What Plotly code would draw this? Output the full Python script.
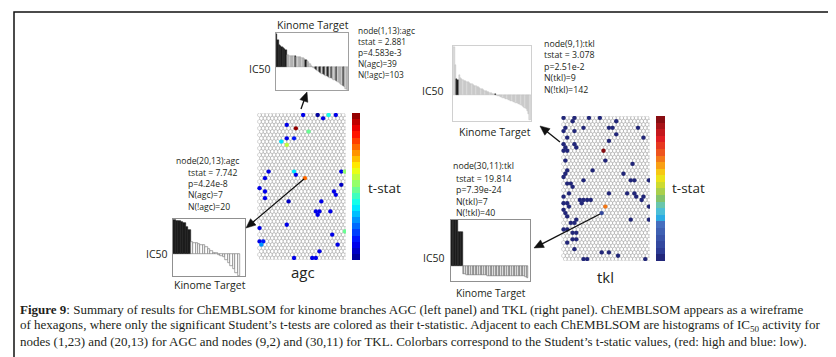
import numpy as np
import plotly.graph_objects as go

W, H = 836, 357


def px(x):
    return x / W


def py(y):
    return 1 - y / H


# ---------------- data ----------------
SOM_ROWS, SOM_COLS = 44, 24

# AGC significant nodes (row, col, t-statistic)
agc_rows = [1, 1, 1, 1, 2, 4, 5, 6, 8, 8, 9, 10, 18, 18, 19, 20, 18, 18, 20, 22, 23, 24,
            24, 25, 26, 27, 27, 30, 30, 31, 30, 34, 35, 37, 36, 39, 39, 40, 40, 42, 44, 44, 44]
agc_cols = [13, 17, 20, 22, 18, 8, 11, 14, 8, 10, 7, 8, 3, 10, 11, 13, 23, 24, 2, 23, 1, 2,
            21, 22, 2, 9, 18, 16, 17, 17, 20, 8, 1, 21, 24, 1, 2, 1, 22, 17, 10, 15, 16]
agc_tstat = [2.881, 2.3, 4.8, 2.9, 2.8, 2.9, 9.3, 5.6, 2.9, 3.0, 4.6, 6.0, 2.8, 4.7, 2.9, 7.742,
             2.9, 5.7, 2.8, 2.4, 2.8, 2.9, 2.8, 2.9, 2.8, 2.4, 2.8, 2.8, 2.8, 2.9, 2.8, 2.9,
             2.8, 2.9, 5.6, 2.9, 3.0, 4.0, 2.9, 2.8, 2.8, 2.8, 2.9]

# TKL significant nodes (row, col, t-statistic)
tkl_rows = [1, 1, 1, 1, 2, 2, 4, 4, 4, 4, 4, 5, 5, 6, 7, 7, 8, 9, 9, 10, 10, 11, 11, 11,
            14, 14, 15, 17, 17, 18, 18, 19, 20, 20, 20, 20, 21, 22, 21, 24, 24, 24, 24, 25,
            25, 25, 26, 26, 26, 26, 26, 27, 27, 27, 28, 28, 28, 29, 30, 30, 31, 32, 32, 32,
            33, 33, 35, 35, 36, 36, 38, 38, 39, 41, 42, 42, 43, 44, 44, 44]
tkl_cols = [1, 4, 8, 11, 3, 15, 1, 6, 13, 14, 21, 4, 1, 15, 2, 23, 13, 1, 4, 1, 4, 2, 12, 1,
            12, 1, 20, 2, 9, 1, 17, 1, 6, 19, 20, 24, 2, 3, 3, 2, 13, 18, 20, 23,
            1, 21, 5, 6, 7, 8, 22, 1, 2, 6, 2, 24, 12, 1, 11, 1, 2, 4, 19, 24,
            3, 4, 1, 2, 3, 4, 3, 4, 2, 4, 11, 13, 16, 6, 7, 23]
tkl_tstat = [3.0, 3.0, 3.0, 3.0, 3.0, 3.0, 3.0, 3.0, 3.0, 3.0, 3.0, 3.0, 3.0, 3.0, 3.0, 3.0,
             3.0, 3.078, 3.0, 3.0, 3.0, 3.0, 27.0, 3.0, 3.0, 3.0, 3.0, 3.0, 3.0, 3.0, 3.0, 3.0,
             3.0, 3.0, 3.0, 3.0, 3.0, 3.0, 3.0, 3.0, 3.0, 3.0, 3.0, 3.0, 3.0, 3.0, 3.0, 3.0,
             3.0, 3.0, 3.0, 3.0, 3.0, 3.0, 3.0, 3.0, 19.814, 3.0, 5.0, 3.0, 3.0, 3.0, 3.0, 3.0,
             3.0, 3.0, 3.0, 3.0, 3.0, 3.0, 3.0, 3.0, 3.0, 3.0, 3.0, 3.0, 3.0, 3.0, 3.0, 3.0]

# IC50 histograms (relative IC50, sorted) and membership (1 = kinase branch, 0 = other)
agc_n1_ic50 = [33, 27, 22, 21, 20, 19, 18, 17,
               12, 12, 11.5, 11.5, 11, 11, 11, 10.5, 10.5, 10, 10, 9.5, 9, 8,
               7, 6, 5, 3, 1, 0.5,
               -1, -2, -3, -4, -5, -6, -6.5, -7, -8, -8.5, -9, -10, -10.5, -11, -12,
               -12.5, -13, -14, -15, -16, -17, -18, -19, -20, -21.5, -23]
agc_n1_grp = [1, 1, 1, 1, 1, 1, 1, 1,
              0, 0, 0, 0, 0, 0, 1, 0, 0, 0, 0, 0, 0, 0,
              1, 0, 0, 0, 0, 0,
              0, 1, 1, 0, 1, 1, 0, 1, 1, 0, 1, 1, 0, 1, 0,
              0, 0, 1, 0, 0, 0, 0, 1, 0, 0, 0]

agc_n2_ic50 = [34, 33, 33, 32, 31, 27, 24,
               12, 11, 11, 10, 9, 9, 7, 5, 3, 1, 1, -1, -2, -3, -6, -9, -12, -15, -19, -22]
agc_n2_grp = [1, 1, 1, 1, 1, 1, 1] + [0] * 20

tkl_n1_ic50 = [48, 30, 16, 15,
               20, 17, 16, 15, 14.5, 14, 13, 13, 12, 11.5, 11, 10, 9.5, 9, 8.5, 8, 7, 6.5,
               6, 5, 4.5, 4, 3.5, 3, 2.5, 2, 1.5, 1, 1.5,
               0.5, -0.5, -1, -1.5, -2, -2.5, -3, -3.5, -4, -4.5, -5, -5.5, -6, -6.5, -7,
               -7.5, -8, -8.5, -9, -10, -11, -12, -13, -14, -16, -19, -25]
tkl_n1_grp = [0, 0, 1, 1] + [0] * 28 + [1] + [0] * 27

tkl_n2_ic50 = [46, 46, 46, 46, 34, 34, 34,
               -8, -8, -8.5, -8.5, -8.5, -8.5, -9, -9, -9, -9, -9, -9, -9, -9, -9,
               -9.5, -9.5, -9.5, -9.5, -9.5, -9.5, -9.5, -9.5, -9.5, -9.5, -9.5,
               -10, -10, -10, -10, -10, -10, -10, -10, -10, -10, -10, -10, -10.5, -12]
tkl_n2_grp = [1] * 7 + [0] * 40

caption_lines = [
    "<b>Figure 9</b>: Summary of results for ChEMBLSOM for kinome branches AGC (left panel) and TKL (right panel). ChEMBLSOM appears as a wireframe",
    "of hexagons, where only the significant Student\u2019s t-tests are colored as their t-statistic. Adjacent to each ChEMBLSOM are histograms of IC<sub>50</sub> activity for",
    "nodes (1,23) and (20,13) for AGC and nodes (9,2) and (30,11) for TKL. Colorbars correspond to the Student\u2019s t-static values, (red: high and blue: low).",
]

# ---------------- styles ----------------
SANS = "Open Sans"
SERIF = "Liberation Serif"


def stepped(anchors, n):
    pos = [a[0] for a in anchors]
    cols = np.array([a[1] for a in anchors], float)
    sc = []
    for i in range(n):
        m = (i + 0.5) / n
        c = [int(np.interp(m, pos, cols[:, k])) for k in range(3)]
        s = f"rgb({c[0]},{c[1]},{c[2]})"
        sc.append([i / n, s])
        sc.append([(i + 1) / n, s])
    return sc


jet_agc = stepped([(0, (0, 0, 140)), (0.125, (0, 0, 255)), (0.375, (0, 255, 255)),
                   (0.625, (255, 255, 0)), (0.875, (255, 0, 0)), (1, (128, 0, 0))], 24)
jet_tkl = stepped([(0, (30, 30, 110)), (0.07, (45, 60, 150)), (0.25, (70, 110, 190)),
                   (0.29, (40, 170, 230)), (0.36, (90, 200, 210)), (0.43, (130, 195, 110)),
                   (0.5, (190, 215, 60)), (0.58, (245, 230, 20)), (0.66, (250, 160, 20)),
                   (0.74, (240, 90, 30)), (0.84, (225, 30, 35)), (0.93, (170, 20, 25)),
                   (1, (120, 10, 15))], 22)

fig = go.Figure()


def hex_x(rows, cols):
    return [c + (0.5 if r % 2 == 0 else 0) for r, c in zip(rows, cols)]


grid_r = [r for r in range(1, SOM_ROWS + 1) for c in range(1, SOM_COLS + 1)]
grid_c = [c for r in range(1, SOM_ROWS + 1) for c in range(1, SOM_COLS + 1)]

for xa, ya in (("x", "y"), ("x2", "y2")):
    fig.add_trace(go.Scatter(
        x=hex_x(grid_r, grid_c), y=grid_r, mode="markers", xaxis=xa, yaxis=ya,
        marker=dict(symbol="hexagon-open", size=4.3, color="#a6a6a6",
                    line=dict(width=0.45, color="#a6a6a6")),
        hoverinfo="skip", showlegend=False))

fig.add_trace(go.Scatter(
    x=hex_x(agc_rows, agc_cols), y=agc_rows, mode="markers", xaxis="x", yaxis="y",
    marker=dict(size=4.3, color=agc_tstat, colorscale=jet_agc, cmin=2, cmax=9.3, showscale=True,
                colorbar=dict(x=px(344), xanchor="left", y=py(178.5), yanchor="middle",
                              len=147, lenmode="pixels", thickness=8, outlinewidth=0,
                              showticklabels=False, ticks="", xpad=0, ypad=0)),
    showlegend=False))

fig.add_trace(go.Scatter(
    x=hex_x(tkl_rows, tkl_cols), y=tkl_rows, mode="markers", xaxis="x2", yaxis="y2",
    marker=dict(size=4.3, color=tkl_tstat, colorscale=jet_tkl, cmin=2, cmax=27, showscale=True,
                colorbar=dict(x=px(648), xanchor="left", y=py(180.5), yanchor="middle",
                              len=145, lenmode="pixels", thickness=9, outlinewidth=0,
                              showticklabels=False, ticks="", xpad=0, ypad=0)),
    showlegend=False))


def bars(vals, grp, xa, ya, other_fill, other_line, lw):
    fig.add_trace(go.Bar(
        x=list(range(len(vals))), y=vals, xaxis=xa, yaxis=ya,
        marker=dict(color=["#1c1c1c" if g else other_fill for g in grp],
                    line=dict(color=["#1c1c1c" if g else other_line for g in grp], width=lw)),
        showlegend=False))


bars(agc_n1_ic50, agc_n1_grp, "x3", "y3", "#d4d4d4", "#8a8a8a", 0.4)
bars(agc_n2_ic50, agc_n2_grp, "x4", "y4", "#ffffff", "#6e6e6e", 0.6)
bars(tkl_n1_ic50, tkl_n1_grp, "x5", "y5", "#dedede", "#b5b5b5", 0.4)
bars(tkl_n2_ic50, tkl_n2_grp, "x6", "y6", "#f0f0f0", "#555555", 0.5)


def grid_axes(x0, x1, y0, y1):
    xa = dict(domain=[px(x0), px(x1)], range=[0.3, SOM_COLS + 0.8], visible=False)
    ya = dict(domain=[py(y1), py(y0)], range=[SOM_ROWS + 0.6, 0.4], visible=False)
    return xa, ya


def bar_axes(x0, x1, y0, y1, xr, yr, lc):
    common = dict(showgrid=False, zeroline=False, showticklabels=False, ticks="",
                  showline=True, mirror=True, linecolor=lc, linewidth=1)
    xa = dict(domain=[px(x0), px(x1)], range=xr, **common)
    ya = dict(domain=[py(y1), py(y0)], range=yr, **common)
    return xa, ya


layout_axes = {}
layout_axes["xaxis"], layout_axes["yaxis"] = grid_axes(249, 338, 105, 252)
layout_axes["xaxis2"], layout_axes["yaxis2"] = grid_axes(553, 642, 108, 253)
layout_axes["xaxis3"], layout_axes["yaxis3"] = bar_axes(268, 340, 25, 82, [-0.5, len(agc_n1_ic50) - 0.5], [-23, 34], "#a0a0a0")
layout_axes["xaxis4"], layout_axes["yaxis4"] = bar_axes(165, 237, 211, 268, [-0.6, 28.5], [-22, 35], "#909090")
layout_axes["xaxis5"], layout_axes["yaxis5"] = bar_axes(445, 523, 38, 113, [-0.8, len(tkl_n1_ic50) - 0.3], [-26, 49], "#d0d0d0")
layout_axes["xaxis6"], layout_axes["yaxis6"] = bar_axes(443, 522, 212, 273, [-0.6, 47.5], [-15, 46], "#909090")
for k in ("xaxis3", "xaxis4", "xaxis5", "xaxis6"):
    layout_axes[k]["anchor"] = "y" + k[-1]
for k in ("yaxis3", "yaxis4", "yaxis5", "yaxis6"):
    layout_axes[k]["anchor"] = "x" + k[-1]
layout_axes["xaxis2"]["anchor"] = "y2"
layout_axes["yaxis2"]["anchor"] = "x2"

ann = []
shapes = [dict(type="rect", xref="paper", yref="paper", x0=px(6), x1=px(830), y0=py(350), y1=py(4),
               line=dict(color="#111111", width=1.5))]


def text(x, y, s, size=9, anchor="left", font=SANS, color="#231f20", yanchor="middle"):
    ann.append(dict(x=px(x), y=py(y), xref="paper", yref="paper", text=s, showarrow=False,
                    xanchor=anchor, yanchor=yanchor, align="left",
                    font=dict(family=font, size=size, color=color)))


def arrow(hx, hy, tx, ty, hl=9.5, hw=4.2):
    d = np.array([hx - tx, hy - ty], float)
    d /= np.hypot(*d)
    n = np.array([-d[1], d[0]])
    bx, by = hx - d[0] * hl, hy - d[1] * hl
    shapes.append(dict(type="line", xref="paper", yref="paper", x0=px(tx), y0=py(ty),
                       x1=px(bx + d[0] * 1.5), y1=py(by + d[1] * 1.5),
                       line=dict(color="#111111", width=1.3)))
    p1 = (bx + n[0] * hw, by + n[1] * hw)
    p2 = (bx - n[0] * hw, by - n[1] * hw)
    path = (f"M {px(hx):.5f} {py(hy):.5f} L {px(p1[0]):.5f} {py(p1[1]):.5f} "
            f"L {px(p2[0]):.5f} {py(p2[1]):.5f} Z")
    shapes.append(dict(type="path", xref="paper", yref="paper", path=path,
                       fillcolor="#111111", line=dict(color="#111111", width=0.5)))


# panel labels
text(305, 17, "Kinome Target", 10.5, "center")
text(265, 61, "IC50", 10.5, "right")
text(202, 277, "Kinome Target", 10.5, "center")
text(162, 246, "IC50", 10.5, "right")
text(487, 124, "Kinome Target", 10.5, "center")
text(438, 83, "IC50", 10.5, "right")
text(483, 285, "Kinome Target", 10.2, "center")
text(439, 250, "IC50", 10.5, "right")
text(295, 264, "agc", 15, "center")
text(597, 269, "tkl", 15, "center")
text(358, 180, "t-stat", 13.5)
text(662, 180, "t-stat", 13.5)

# node annotations
text(348, 44, "node(1,13):agc<br>tstat = 2.881<br>p=4.583e-3<br>N(agc)=39<br>N(!agc)=103", 8.4)
text(166, 153, "node(20,13):agc", 8.6)
text(178, 182, "tstat = 7.742<br>p=4.24e-8<br>N(agc)=7<br>N(!agc)=20", 8.6)
text(534, 59, "node(9,1):tkl<br>tstat = 3.078<br>p=2.51e-2<br>N(tkl)=9<br>N(!tkl)=142", 8.8)
text(443, 158, "node(30,11):tkl", 8.8)
text(446, 188, "tstat = 19.814<br>p=7.39e-24<br>N(tkl)=7<br>N(!tkl)=40", 8.8)

# arrows
arrow(299, 84, 293, 101)
arrow(238, 220, 296, 171)
arrow(532, 118, 552, 134)
arrow(526, 240, 592, 206)

# caption
for i, s in enumerate(caption_lines):
    text(10, 301 + i * 16, s, 13, "left", SERIF)

fig.update_layout(
    width=W, height=H, margin=dict(l=0, r=0, t=0, b=0),
    paper_bgcolor="white", plot_bgcolor="rgba(0,0,0,0)", bargap=0,
    annotations=ann, shapes=shapes,
    **layout_axes)

fig.write_html("out.html")
